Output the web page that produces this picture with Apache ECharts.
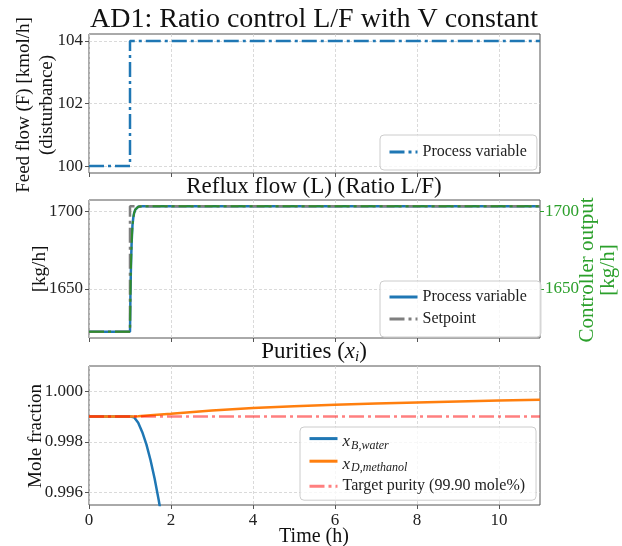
<!DOCTYPE html>
<html>
<head>
<meta charset="UTF-8">
<title>AD1 ratio control</title>
<script src="https://cdn.jsdelivr.net/npm/echarts@6/dist/echarts.min.js"></script>
<style>
  html, body { margin: 0; padding: 0; background: #fff; }
  #main { width: 622px; height: 546px; }
</style>
</head>
<body>
<div id="main"></div>
<script>
// feed flow (disturbance)
var timeF = [0, 1, 1, 11];
var feed = [100, 100, 104, 104];

// reflux flow
var timeL = [0, 1.0, 1.005, 1.01, 1.02, 1.03, 1.04, 1.06, 1.08, 1.10, 1.13, 1.16, 1.2, 1.3, 1.5, 11];
var refluxPV = [1622.4, 1622.4, 1634, 1645, 1660, 1671, 1680, 1691, 1696, 1699, 1701.3, 1702.4, 1703.1, 1703.4, 1703.4, 1703.4];
var ctrlOut = [1622.4, 1622.4, 1634, 1645, 1660, 1671, 1680, 1691, 1696, 1699, 1701.3, 1702.4, 1703.1, 1703.4, 1703.4, 1703.4];
var timeSP = [0, 1, 1, 11];
var setpoint = [1622.4, 1622.4, 1703.4, 1703.4];

// purities
var timeB = [0, 1.0, 1.1, 1.2, 1.3, 1.4, 1.5, 1.6, 1.7, 1.8, 1.9, 2.0];
var xB = [0.999, 0.999, 0.99897, 0.99875, 0.99838, 0.99790, 0.99728, 0.99655, 0.99570, 0.99475, 0.9937, 0.9925];
var timeD = [0, 1.0, 1.2, 1.5, 2, 3, 4, 5, 6, 7, 8, 9, 10, 11];
var xD = [0.999, 0.999, 0.99901, 0.99905, 0.99911, 0.99924, 0.99934, 0.99941, 0.99947, 0.99952, 0.99956, 0.9996, 0.99963, 0.99966];
var timeT = [0, 11];
var target = [0.999, 0.999];

var xTicks = [0, 2, 4, 6, 8, 10];
var feedTicks = [100, 102, 104];
var refluxTicks = [1650, 1700];
var purityTicks = [0.996, 0.998, 1.000];

function pairs(xs, ys) {
  var out = [];
  for (var i = 0; i < xs.length; i++) out.push([xs[i], ys[i]]);
  return out;
}

var FONT = 'Liberation Serif';
var dashDot = [15, 4, 3, 4];
var gridLine = { show: true, lineStyle: { color: '#d0d0d0', width: 0.8, type: [3, 2] } };
var plain = function (v) { return String(v); };

function xAx(i, labels) {
  return {
    type: 'value', gridIndex: i, min: 0, max: 11, interval: 2,
    axisLine: { show: false },
    axisTick: { show: true, length: 4, lineStyle: { color: '#555' }, customValues: xTicks },
    axisLabel: { show: labels, customValues: xTicks, fontFamily: FONT, fontSize: 17, color: '#222', margin: 7 },
    splitLine: gridLine
  };
}

function yAx(i, min, max, step, ticks, fmt) {
  return {
    type: 'value', gridIndex: i, min: min, max: max, minInterval: step, maxInterval: step,
    axisLine: { show: false },
    axisTick: { show: true, length: 4, lineStyle: { color: '#555' }, customValues: ticks },
    axisLabel: { customValues: ticks, fontFamily: FONT, fontSize: 17, color: '#222', margin: 6, formatter: fmt },
    splitLine: gridLine
  };
}

var chart = echarts.init(document.getElementById('main'));

var legendBase = {
  orient: 'vertical',
  selectedMode: false,
  backgroundColor: 'rgba(255,255,255,0.8)',
  borderColor: '#cccccc',
  borderWidth: 1,
  borderRadius: 4,
  itemWidth: 28,
  itemHeight: 14,
  itemGap: 6,
  itemStyle: { opacity: 0 },
  lineStyle: { width: 3 },
  textStyle: { fontFamily: FONT, fontSize: 16, color: '#222' }
};

chart.setOption({
  animation: false,
  grid: [
    { left: 89, top: 34, width: 451, height: 139, show: true, borderColor: '#555', borderWidth: 1 },
    { left: 89, top: 200, width: 451, height: 138, show: true, borderColor: '#555', borderWidth: 1 },
    { left: 89, top: 366, width: 451, height: 139, show: true, borderColor: '#555', borderWidth: 1 }
  ],
  xAxis: [xAx(0, false), xAx(1, false), xAx(2, true)],
  yAxis: [
    yAx(0, 99.78, 104.22, 2, feedTicks, plain),
    yAx(1, 1618.35, 1707.45, 50, refluxTicks, plain),
    {
      type: 'value', gridIndex: 1, position: 'right', min: 1618.35, max: 1707.45, minInterval: 50, maxInterval: 50,
      axisLine: { show: false },
      axisTick: { show: true, length: 4, lineStyle: { color: '#2ca02c' }, customValues: refluxTicks },
      axisLabel: { customValues: refluxTicks, fontFamily: FONT, fontSize: 17, color: '#2ca02c', margin: 5, formatter: plain },
      splitLine: { show: false }
    },
    yAx(2, 0.9955, 1.001, 0.002, purityTicks, function (v) { return v.toFixed(3); })
  ],
  legend: [
    Object.assign({}, legendBase, { data: ['Process variable'], left: 380, top: 135, padding: [9, 10, 10, 8] }),
    Object.assign({}, legendBase, { data: ['Process variable ', 'Setpoint'], left: 380, top: 281, padding: [8, 10, 10, 8] }),
    Object.assign({}, legendBase, {
      data: ['xB', 'xD', 'Target purity (99.90 mole%)'], left: 300, top: 427, padding: [6, 11, 6, 8], itemGap: 4,
      formatter: function (name) {
        if (name === 'xB') return '{m|x}{s|B,water}';
        if (name === 'xD') return '{m|x}{s|D,methanol}';
        return name;
      },
      textStyle: {
        fontFamily: FONT, fontSize: 16, color: '#222',
        rich: {
          m: { fontFamily: FONT, fontStyle: 'italic', fontSize: 17, color: '#222', padding: [6, 0, 0, 0] },
          s: { fontFamily: FONT, fontStyle: 'italic', fontSize: 12, color: '#222', padding: [14, 0, 0, 1] }
        }
      }
    })
  ],
  series: [
    { name: 'Process variable', type: 'line', xAxisIndex: 0, yAxisIndex: 0, symbol: 'none',
      data: pairs(timeF, feed), color: '#1f77b4', lineStyle: { width: 2.5, type: dashDot } },
    { name: 'Process variable ', type: 'line', xAxisIndex: 1, yAxisIndex: 1, symbol: 'none',
      data: pairs(timeL, refluxPV), color: '#1f77b4', lineStyle: { width: 2.5 } },
    { name: 'Setpoint', type: 'line', xAxisIndex: 1, yAxisIndex: 1, symbol: 'none',
      data: pairs(timeSP, setpoint), color: '#7f7f7f', lineStyle: { width: 2.5, type: dashDot } },
    { name: 'Controller output', type: 'line', xAxisIndex: 1, yAxisIndex: 2, symbol: 'none',
      data: pairs(timeL, ctrlOut), color: '#2e8b2e', lineStyle: { width: 2, type: dashDot } },
    { name: 'xB', type: 'line', xAxisIndex: 2, yAxisIndex: 3, symbol: 'none',
      data: pairs(timeB, xB), color: '#1f77b4', lineStyle: { width: 2.5 } },
    { name: 'xD', type: 'line', xAxisIndex: 2, yAxisIndex: 3, symbol: 'none',
      data: pairs(timeD, xD), color: '#ff7f0e', lineStyle: { width: 2.5 } },
    { name: 'Target purity (99.90 mole%)', type: 'line', xAxisIndex: 2, yAxisIndex: 3, symbol: 'none',
      data: pairs(timeT, target), color: 'rgba(255,0,0,0.5)', lineStyle: { width: 2.5, type: dashDot } }
  ],
  graphic: [
    { type: 'text', x: 314, y: 20, style: { text: 'AD1: Ratio control L/F with V constant', font: '28px "' + FONT + '"', fill: '#111', align: 'center', verticalAlign: 'middle' } },
    { type: 'text', x: 314, y: 187, style: { text: 'Reflux flow (L) (Ratio L/F)', font: '23px "' + FONT + '"', fill: '#111', align: 'center', verticalAlign: 'middle' } },
    { type: 'text', x: 314, y: 352, style: {
        text: 'Purities ({m|x}{s|i})', font: '23px "' + FONT + '"', fill: '#111', align: 'center', verticalAlign: 'middle',
        rich: { m: { fontFamily: FONT, fontStyle: 'italic', fontSize: 23 }, s: { fontFamily: FONT, fontStyle: 'italic', fontSize: 15, padding: [10, 0, 0, 0] } }
    } },
    { type: 'text', x: 24, y: 105, rotation: Math.PI / 2, style: { text: 'Feed flow (F) [kmol/h]', font: '19px "' + FONT + '"', fill: '#111', align: 'center', verticalAlign: 'middle' } },
    { type: 'text', x: 47, y: 105, rotation: Math.PI / 2, style: { text: '(disturbance)', font: '19px "' + FONT + '"', fill: '#111', align: 'center', verticalAlign: 'middle' } },
    { type: 'text', x: 40, y: 269, rotation: Math.PI / 2, style: { text: '[kg/h]', font: '19px "' + FONT + '"', fill: '#111', align: 'center', verticalAlign: 'middle' } },
    { type: 'text', x: 36, y: 436, rotation: Math.PI / 2, style: { text: 'Mole fraction', font: '19px "' + FONT + '"', fill: '#111', align: 'center', verticalAlign: 'middle' } },
    { type: 'text', x: 587, y: 270, rotation: Math.PI / 2, style: { text: 'Controller output', font: '21px "' + FONT + '"', fill: '#2ca02c', align: 'center', verticalAlign: 'middle' } },
    { type: 'text', x: 608, y: 270, rotation: Math.PI / 2, style: { text: '[kg/h]', font: '21px "' + FONT + '"', fill: '#2ca02c', align: 'center', verticalAlign: 'middle' } },
    { type: 'text', x: 314, y: 537, style: { text: 'Time (h)', font: '20px "' + FONT + '"', fill: '#111', align: 'center', verticalAlign: 'middle' } }
  ]
});
</script>
</body>
</html>
